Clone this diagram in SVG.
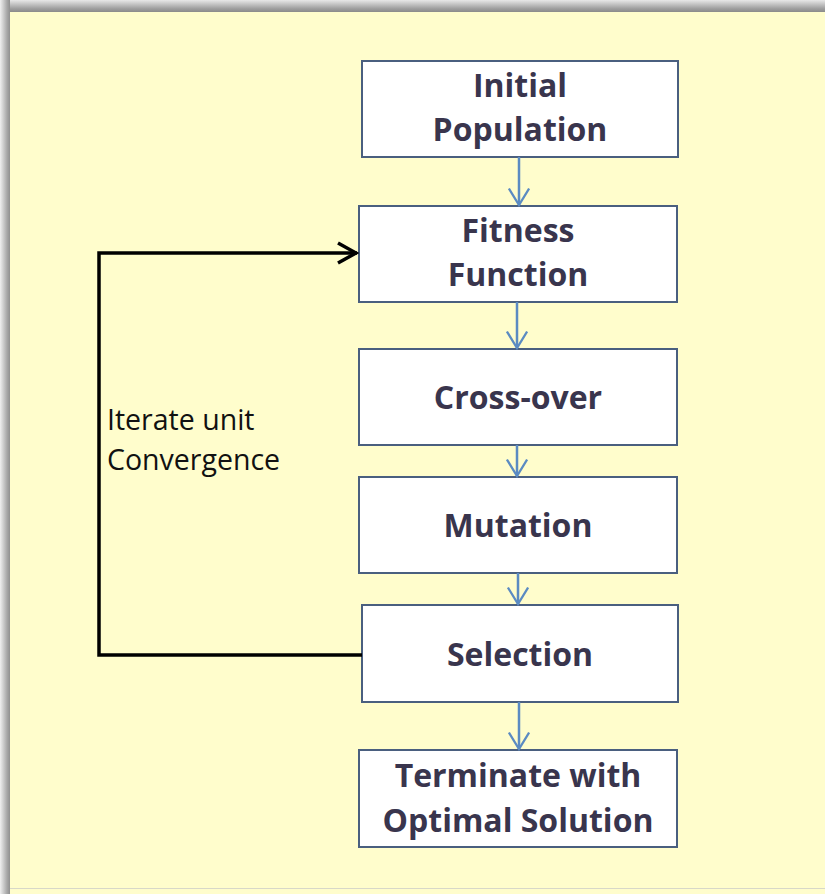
<svg xmlns="http://www.w3.org/2000/svg" width="825" height="894" viewBox="0 0 825 894">
<defs>
<linearGradient id="topsh" x1="0" y1="0" x2="0" y2="1">
<stop offset="0" stop-color="#e8e8e8"/><stop offset="0.7" stop-color="#a0a0a0"/><stop offset="1" stop-color="#8a8a8a"/>
</linearGradient>
<linearGradient id="leftsh" x1="0" y1="0" x2="1" y2="0">
<stop offset="0" stop-color="#f0f0f0"/><stop offset="0.7" stop-color="#a8a8a8"/><stop offset="1" stop-color="#909090"/>
</linearGradient>
<marker id="blue" viewBox="0 0 24 24" refX="22" refY="12" markerWidth="22" markerHeight="22" markerUnits="userSpaceOnUse" orient="auto">
<path d="M4,1 L22,12 L4,23" fill="none" stroke="#5b8bc2" stroke-width="2.5"/>
</marker>
<marker id="black" viewBox="0 0 24 24" refX="22" refY="12" markerWidth="24" markerHeight="24" markerUnits="userSpaceOnUse" orient="auto">
<path d="M3,2 L21,12 L3,22" fill="none" stroke="#000" stroke-width="3.5"/>
</marker>
</defs>
<style>
.box{fill:#ffffff;stroke:#4a5f7f;stroke-width:2}
.t{font-family:"Open Sans",sans-serif;font-weight:bold;font-size:32px;fill:#39354d;text-anchor:middle;font-variant-ligatures:none}
.lbl{font-family:"Open Sans",sans-serif;font-size:28.5px;fill:#111}
.bl{stroke:#5b8bc2;stroke-width:2.5;fill:none;marker-end:url(#blue)}
</style>
<rect x="0" y="0" width="825" height="894" fill="#fffdcc"/>
<rect x="0" y="0" width="825" height="12" fill="url(#topsh)"/>
<rect x="0" y="0" width="10" height="894" fill="url(#leftsh)"/>
<rect x="10" y="888" width="815" height="1" fill="#d8d8c8"/>

<g id="initial"><rect class="box" x="362" y="61" width="316" height="96"/>
<text class="t" x="520" y="97">Initial</text><text class="t" x="520" y="141">Population</text></g>
<g id="fitness"><rect class="box" x="359" y="206" width="318" height="96"/>
<text class="t" x="518" y="242">Fitness</text><text class="t" x="518" y="286">Function</text></g>
<g id="crossover"><rect class="box" x="359" y="349" width="318" height="96"/>
<text class="t" x="518" y="409">Cross-over</text></g>
<g id="mutation"><rect class="box" x="359" y="477" width="318" height="96"/>
<text class="t" x="518" y="537">Mutation</text></g>
<g id="selection"><rect class="box" x="362" y="605" width="316" height="97"/>
<text class="t" x="520" y="666">Selection</text></g>
<g id="terminate"><rect class="box" x="359" y="750" width="318" height="97"/>
<text class="t" x="518" y="787">Terminate with</text><text class="t" x="518" y="832">Optimal Solution</text></g>

<g id="connectors">
<line class="bl" x1="519" y1="157" x2="519" y2="205"/>
<line class="bl" x1="517" y1="302" x2="517" y2="348"/>
<line class="bl" x1="517" y1="445" x2="517" y2="476"/>
<line class="bl" x1="518" y1="573" x2="518" y2="604"/>
<line class="bl" x1="519" y1="702" x2="519" y2="749"/>
<path d="M362,655 H99 V253 H357" fill="none" stroke="#000" stroke-width="3.5" marker-end="url(#black)"/>
</g>
<g id="label">
<text class="lbl" x="107" y="430">Iterate unit</text>
<text class="lbl" x="107" y="470">Convergence</text>
</g>
</svg>
